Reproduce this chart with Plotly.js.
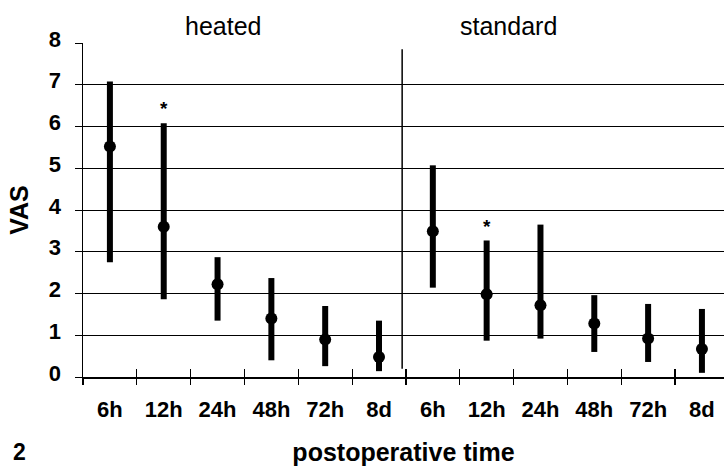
<!DOCTYPE html>
<html>
<head>
<meta charset="utf-8">
<script src="https://cdn.plot.ly/plotly-3.0.1.min.js"></script>
<style>html,body{margin:0;padding:0;background:#fff;}#chart{width:724px;height:466px;}</style>
</head>
<body>
<div id="chart"></div>
<script>
// ---- data ----
const timeLabels = ["6h","12h","24h","48h","72h","8d","6h","12h","24h","48h","72h","8d"];
const groups = ["heated","standard"];
const vasMedian = [5.52, 3.60, 2.22, 1.40, 0.90, 0.48,   3.49, 1.98, 1.72, 1.28, 0.92, 0.67];
const vasUpper  = [7.08, 6.08, 2.87, 2.37, 1.70, 1.35,   5.07, 3.27, 3.65, 1.96, 1.75, 1.63];
const vasLower  = [2.75, 1.86, 1.35, 0.40, 0.26, 0.14,   2.14, 0.87, 0.92, 0.60, 0.36, 0.10];
const significance = ["", "*", "", "", "", "",   "", "*", "", "", "", ""];
const yTicks = [0, 1, 2, 3, 4, 5, 6, 7, 8];
const figureNumber = "2";

const xIdx = timeLabels.map((_, i) => i);
const boundaries = timeLabels.map((_, i) => i - 0.5);
const perGroup = timeLabels.length / groups.length;
const xRange = [-0.5, 11.41];
const FONT = "Liberation Sans, Arial, sans-serif";

const main = {
  type: "scatter", mode: "markers",
  x: xIdx, y: vasMedian, xaxis: "x", yaxis: "y",
  marker: {color: "#000", size: 12},
  error_y: {
    type: "data", symmetric: false,
    array: vasUpper.map((u, i) => u - vasMedian[i]),
    arrayminus: vasLower.map((l, i) => vasMedian[i] - l),
    thickness: 6, width: 0, color: "#000"
  },
  hoverinfo: "skip", showlegend: false
};

const stars = {
  type: "scatter", mode: "text",
  x: xIdx, y: vasUpper.map((u, i) => significance[i] ? u + 0.3 : null),
  text: significance.map(s => s ? "<b>" + s + "</b>" : ""), textposition: "middle center",
  textfont: {family: FONT, size: 19, color: "#000"},
  hoverinfo: "skip", showlegend: false
};

// invisible helper traces to carry the overlay tick axes
const helperOut = {type: "scatter", x: [], y: [], xaxis: "x2", yaxis: "y", showlegend: false};
const helperIn  = {type: "scatter", x: [], y: [], xaxis: "x3", yaxis: "y", showlegend: false};

const layout = {
  width: 724, height: 466,
  margin: {l: 83, r: 0, t: 43, b: 89},
  paper_bgcolor: "#fff", plot_bgcolor: "#fff",
  font: {family: FONT, color: "#000", size: 22},
  showlegend: false,
  xaxis: {
    range: xRange, tickmode: "array", tickvals: xIdx,
    ticktext: timeLabels.map(t => "<b>" + t + "</b>"),
    ticks: "outside", ticklen: 12, tickcolor: "rgba(0,0,0,0)",
    showgrid: false, zeroline: false,
    showline: true, linecolor: "#000", linewidth: 1.5,
    tickfont: {size: 22, family: FONT},
    title: {text: "<b>postoperative time</b>", font: {size: 25, family: FONT}, standoff: 22}
  },
  xaxis2: {
    overlaying: "x", anchor: "y", range: xRange, tickmode: "array", tickvals: boundaries,
    ticks: "outside", ticklen: 7, tickwidth: 1.2, tickcolor: "#000",
    showticklabels: false, showgrid: false, zeroline: false, showline: false
  },
  xaxis3: {
    overlaying: "x", anchor: "y", range: xRange, tickmode: "array", tickvals: boundaries,
    ticks: "inside", ticklen: 8, tickwidth: 1.2, tickcolor: "#000",
    showticklabels: false, showgrid: false, zeroline: false, showline: false
  },
  yaxis: {
    range: [0, 8], tickmode: "array", tickvals: yTicks,
    ticktext: yTicks.map(v => "<b>" + v + "</b>"),
    ticks: "outside", ticklen: 7, tickcolor: "#000",
    showgrid: true, gridcolor: "#000", gridwidth: 1,
    zeroline: false, showline: true, linecolor: "#000", linewidth: 1.5,
    tickfont: {size: 22, family: FONT},
    ticklabelstandoff: 9, ticklabelshift: -4,
    title: {text: "<b>VAS</b>", font: {size: 25, family: FONT}, standoff: 13}
  },
  shapes: [{
    type: "line", xref: "x", yref: "y",
    x0: perGroup - 0.57, x1: perGroup - 0.57, y0: 0.2, y1: 7.85,
    line: {color: "#000", width: 1.5}
  }],
  annotations: [
    {text: groups[0], xref: "x", yref: "paper", x: 2.1, y: 1, yanchor: "bottom", yshift: 1,
     showarrow: false, font: {size: 25, family: FONT}},
    {text: groups[1], xref: "x", yref: "paper", x: 7.4, y: 1, yanchor: "bottom", yshift: 1,
     showarrow: false, font: {size: 25, family: FONT}},
    {text: "<b>" + figureNumber + "</b>", xref: "paper", yref: "paper", x: -0.112, y: -0.2246,
     xanchor: "left", yanchor: "middle", showarrow: false, font: {size: 23, family: FONT}}
  ]
};

Plotly.newPlot("chart", [main, stars, helperOut, helperIn], layout, {displayModeBar: false, staticPlot: true});
</script>
</body>
</html>
